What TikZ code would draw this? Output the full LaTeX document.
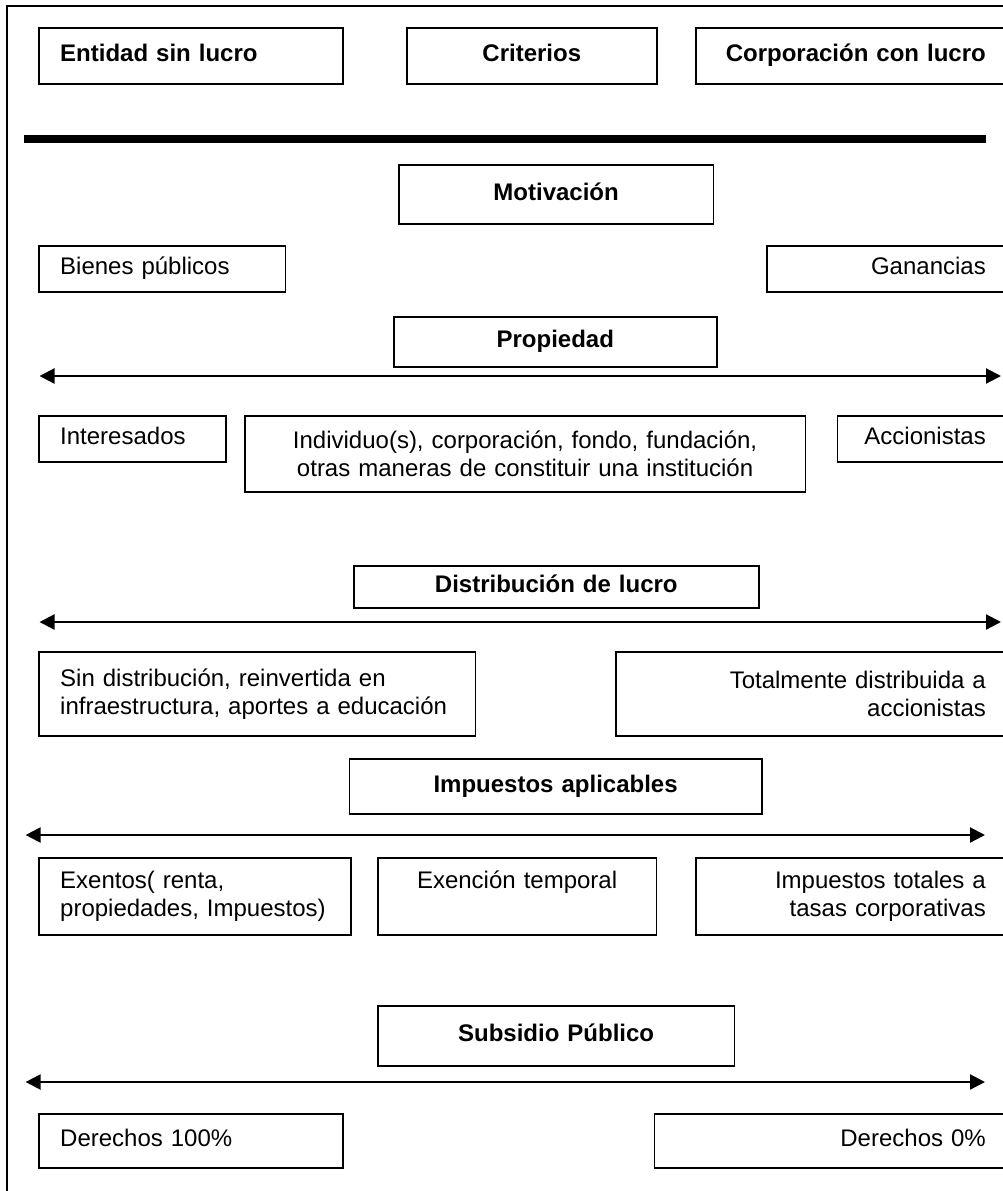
\documentclass[tikz,border=0pt]{standalone}
\usepackage{fontspec}
\setmainfont{Liberation Sans}
\usetikzlibrary{arrows.meta, positioning}

\begin{document}
\begin{tikzpicture}[
    x=0.5pt, y=-0.5pt,
    >={Triangle[length=7.5pt, width=7.5pt]},
    caja/.style={draw, line width=0.8pt, anchor=north west, inner xsep=10.5pt,
      inner ysep=0pt, font=\fontsize{12}{14}\selectfont},
    izq/.style={caja, align=left},
    der/.style={caja, align=right},
    centro/.style={caja, align=center},
    linea/.style={text height=8.6pt, text depth=2.5pt},
    negrita/.style={font=\fontsize{12}{14}\selectfont\bfseries},
    eje/.style={<->, line width=1.1pt},
  ]
  \useasboundingbox (0,0) rectangle (1003,1191);
  \clip (0,0) rectangle (1003,1191);

  % Marco
  \draw[line width=0.8pt] (7,6) rectangle (1040,1230);

  % Encabezado
  \node[izq, negrita, linea, text width=130.8pt, minimum height=28pt] (ent) at (38.4,27) {Entidad sin lucro};
  \node[centro, negrita, linea, text width=104pt, minimum height=28pt] (crit) at (406,27) {Criterios};
  \node[der, negrita, linea, text width=134.5pt, minimum height=28pt] (corp) at (695,27) {Corporación con lucro};

  \coordinate (sep1) at (24,139);
  \coordinate (sep2) at (986,139);
  \draw[line width=4pt] (sep1) -- (sep2);

  % Motivacion
  \node[centro, negrita, linea, text width=136.3pt, minimum height=29.5pt] (mot) at (398,164) {Motivación};
  \node[izq, linea, text width=102.1pt, minimum height=23pt] (bien) at (38.4,245) {Bienes públicos};
  \node[der, linea, text width=99pt, minimum height=23pt] (gan) at (766,245) {Ganancias};

  % Propiedad
  \node[centro, negrita, linea, text width=140.5pt, minimum height=25pt] (prop) at (393,316) {Propiedad};
  \coordinate (pa) at (39.5,376);
  \coordinate (pb) at (1001,376);
  \draw[eje] (pa) -- (pb);
  \node[izq, linea, text width=72.3pt, minimum height=23pt] (inter) at (38.4,415) {Interesados};
  \node[centro, text width=259.3pt, minimum height=38pt] (indiv) at (244,415)
    {Individuo(s), corporación, fondo, fundación,\\otras maneras de constituir una institución};
  \node[der, linea, text width=63.7pt, minimum height=23pt] (acc) at (836.6,415) {Accionistas};

  % Distribucion de lucro
  \node[centro, negrita, linea, text width=181.5pt, minimum height=21pt] (dist) at (353,565) {Distribución de lucro};
  \coordinate (da) at (39.5,622);
  \coordinate (db) at (1001,622);
  \draw[eje] (da) -- (db);
  \node[izq, text width=197.1pt, minimum height=42pt] (sindist) at (38.4,651)
    {Sin distribución, reinvertida en\\infraestructura, aportes a educación};
  \node[der, text width=174.4pt, minimum height=42pt] (total) at (615.3,651)
    {Totalmente distribuida a\\accionistas};

  % Impuestos
  \node[centro, negrita, linea, text width=185.2pt, minimum height=27.5pt] (imp) at (348.6,758) {Impuestos aplicables};
  \coordinate (ia) at (25.6,835);
  \coordinate (ib) at (985,835);
  \draw[eje] (ia) -- (ib);
  \node[izq, text width=134.8pt, minimum height=38.5pt] (exen) at (38.4,857)
    {Exentos( renta,\\propiedades, Impuestos)};
  \node[centro, text width=118.3pt, minimum height=38.5pt, text height=9pt, text depth=16.5pt] (temp) at (377,857)
    {Exención temporal};
  \node[der, text width=134.5pt, minimum height=38.5pt] (tasas) at (695,857)
    {Impuestos totales a\\tasas corporativas};

  % Subsidio
  \node[centro, negrita, linea, text width=157.3pt, minimum height=30pt] (sub) at (377,1005) {Subsidio Público};
  \coordinate (sa) at (25.6,1082);
  \coordinate (sb) at (985,1082);
  \draw[eje] (sa) -- (sb);
  \node[izq, linea, text width=130.8pt, minimum height=27pt] (der100) at (38.4,1113) {Derechos 100\%};
  \node[der, linea, text width=155.2pt, minimum height=27pt] (der0) at (653.6,1113) {Derechos 0\%};

\end{tikzpicture}
\end{document}
